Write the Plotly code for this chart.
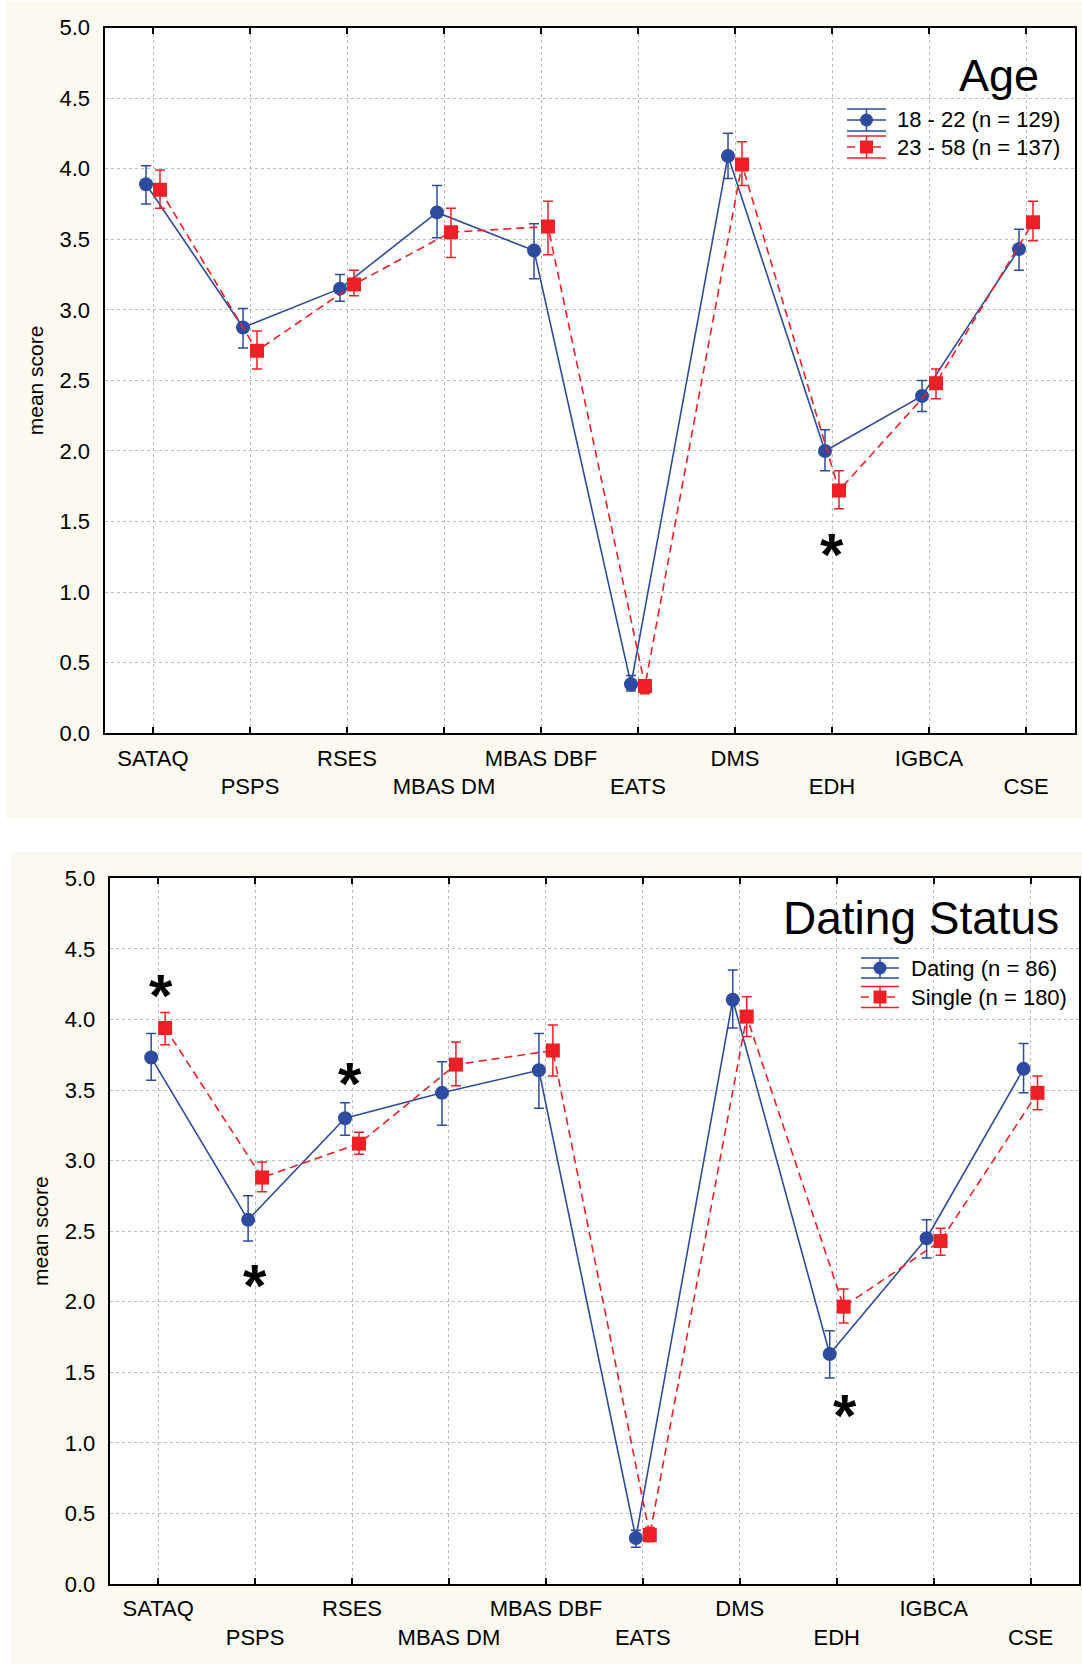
import plotly.graph_objects as go

# ---------------- data ----------------
categories = ["SATAQ", "PSPS", "RSES", "MBAS DM", "MBAS DBF", "EATS", "DMS", "EDH", "IGBCA", "CSE"]

# Top panel: Age
age_young_label = "18 - 22 (n = 129)"
age_young_mean = [3.89, 2.875, 3.15, 3.69, 3.42, 0.347, 4.09, 2.00, 2.39, 3.43]
age_young_hi = [4.02, 3.01, 3.25, 3.88, 3.61, 0.41, 4.25, 2.15, 2.50, 3.57]
age_young_lo = [3.75, 2.73, 3.06, 3.51, 3.22, 0.30, 3.93, 1.86, 2.28, 3.28]

age_old_label = "23 - 58 (n = 137)"
age_old_mean = [3.85, 2.71, 3.18, 3.55, 3.59, 0.335, 4.03, 1.72, 2.48, 3.62]
age_old_hi = [3.99, 2.85, 3.28, 3.72, 3.77, 0.38, 4.19, 1.86, 2.58, 3.77]
age_old_lo = [3.72, 2.58, 3.10, 3.37, 3.39, 0.28, 3.88, 1.59, 2.37, 3.49]

age_star_x = [7.0]
age_star_y = [1.33]

# Bottom panel: Dating status
dat_label = "Dating (n = 86)"
dat_mean = [3.73, 2.58, 3.30, 3.48, 3.64, 0.326, 4.14, 1.63, 2.45, 3.65]
dat_hi = [3.90, 2.75, 3.41, 3.70, 3.90, 0.38, 4.35, 1.795, 2.58, 3.83]
dat_lo = [3.57, 2.43, 3.18, 3.25, 3.37, 0.26, 3.94, 1.46, 2.31, 3.48]

sin_label = "Single (n = 180)"
sin_mean = [3.94, 2.88, 3.12, 3.68, 3.78, 0.347, 4.02, 1.965, 2.43, 3.48]
sin_hi = [4.05, 2.99, 3.20, 3.84, 3.96, 0.40, 4.16, 2.09, 2.52, 3.60]
sin_lo = [3.82, 2.78, 3.045, 3.53, 3.60, 0.30, 3.88, 1.85, 2.33, 3.36]

dat_star_x = [0.03, 1.0, 1.975, 7.085]
dat_star_y = [4.23, 2.18, 3.61, 1.256]

y_ticks = [0.0, 0.5, 1.0, 1.5, 2.0, 2.5, 3.0, 3.5, 4.0, 4.5, 5.0]

# ---------------- style ----------------
W, H = 1082, 1664
BLUE = "#2D4B9F"
RED = "#EE2026"
BEIGE = "#FCF9F0"
GRID = "#BDBDBD"
FONT = "Liberation Sans, Arial, sans-serif"
OFF = 0.072


def fx(px):
    return px / W


def fy(py):
    return 1 - py / H


fig = go.Figure()


def add_series(mean, hi, lo, color, dash, symbol, shift, xa, ya):
    xs = [i + shift for i in range(len(mean))]
    fig.add_trace(go.Scatter(
        x=xs, y=mean, mode="lines+markers",
        line=dict(color=color, width=1.6, dash=dash),
        marker=dict(symbol=symbol, size=14, color=color, line=dict(width=0)),
        error_y=dict(type="data", symmetric=False,
                     array=[h - m for h, m in zip(hi, mean)],
                     arrayminus=[m - l for m, l in zip(mean, lo)],
                     color=color, thickness=1.5, width=5),
        xaxis=xa, yaxis=ya, showlegend=False, hoverinfo="skip"))


add_series(age_young_mean, age_young_hi, age_young_lo, BLUE, "solid", "circle", -OFF, "x", "y")
add_series(age_old_mean, age_old_hi, age_old_lo, RED, "8px,5px", "square", OFF, "x", "y")
add_series(dat_mean, dat_hi, dat_lo, BLUE, "solid", "circle", -OFF, "x2", "y2")
add_series(sin_mean, sin_hi, sin_lo, RED, "8px,5px", "square", OFF, "x2", "y2")

ticktext = [c if i % 2 == 0 else "<br>" + c for i, c in enumerate(categories)]

xcommon = dict(range=[-0.5, 9.5], tickmode="array", tickvals=list(range(len(categories))),
               ticktext=ticktext, tickangle=0, ticks="inside", ticklen=6, tickwidth=1.5,
               tickcolor="black", automargin=False,
               showline=True, linewidth=2, linecolor="black", mirror="ticks",
               showgrid=True, gridcolor=GRID, griddash="dot", gridwidth=1,
               zeroline=False, tickfont=dict(family=FONT, size=22, color="black"),
               ticklabelstandoff=4, fixedrange=True)
ycommon = dict(range=[0, 5], tickmode="array", tickvals=y_ticks,
               ticktext=[f"{v:.1f}" for v in y_ticks], ticks="", automargin=False,
               showline=True, linewidth=2, linecolor="black", mirror=True,
               showgrid=True, gridcolor=GRID, griddash="dot", gridwidth=1,
               zeroline=False, tickfont=dict(family=FONT, size=22, color="black"),
               ticklabelstandoff=8,
               title=dict(text="mean score", font=dict(family=FONT, size=21, color="black"), standoff=10),
               fixedrange=True)
yright = dict(range=[0, 11], dtick=1, ticks="inside", ticklen=5, tickwidth=1.5, tickcolor="black",
              showticklabels=False, showgrid=False, showline=False, zeroline=False, side="right",
              automargin=False, fixedrange=True)

top_dom_x = [fx(104.5), fx(1074.5)]
top_dom_y = [fy(733.3), fy(27.5)]
bot_dom_x = [fx(109.7), fx(1079.0)]
bot_dom_y = [fy(1584.0), fy(878.3)]

fig.update_layout(
    width=W, height=H, margin=dict(l=0, r=0, t=0, b=0, autoexpand=False),
    paper_bgcolor=BEIGE, plot_bgcolor="white",
    font=dict(family=FONT, color="black"),
    xaxis=dict(domain=top_dom_x, anchor="y", **xcommon),
    yaxis=dict(domain=top_dom_y, anchor="x", **ycommon),
    xaxis2=dict(domain=bot_dom_x, anchor="y2", **xcommon),
    yaxis2=dict(domain=bot_dom_y, anchor="x2", **ycommon),
    yaxis3=dict(overlaying="y", anchor="x", **yright),
    yaxis4=dict(overlaying="y2", anchor="x2", **yright),
    showlegend=False,
)

shapes = []
annotations = []

# white gaps around the two beige panels
for (x0, x1, y0, y1) in [(0, W, 0, 2), (0, 6, 0, 819), (0, W, 819, 852), (0, 11, 852, H)]:
    shapes.append(dict(type="rect", xref="paper", yref="paper", x0=fx(x0), x1=fx(x1),
                       y0=fy(y1), y1=fy(y0), fillcolor="white", line=dict(width=0), layer="below"))

# asterisks
for xa, ya, xs, ys in [("x", "y", age_star_x, age_star_y), ("x2", "y2", dat_star_x, dat_star_y)]:
    for sx, sy in zip(xs, ys):
        annotations.append(dict(x=sx, y=sy, xref=xa, yref=ya, text="<b>*</b>", showarrow=False,
                                font=dict(family=FONT, size=60, color="black"),
                                xanchor="center", yanchor="middle", yshift=-9))


# manual legends
def legend_entry(x0, x1, yc, half, color, dashed, symbol, text, text_x):
    xm = (x0 + x1) / 2
    lw = 1.5
    shapes.append(dict(type="line", xref="paper", yref="paper", x0=fx(x0), x1=fx(x1),
                       y0=fy(yc - half), y1=fy(yc - half), line=dict(color=color, width=lw)))
    shapes.append(dict(type="line", xref="paper", yref="paper", x0=fx(x0), x1=fx(x1),
                       y0=fy(yc + half), y1=fy(yc + half), line=dict(color=color, width=lw)))
    shapes.append(dict(type="line", xref="paper", yref="paper", x0=fx(xm), x1=fx(xm),
                       y0=fy(yc - half), y1=fy(yc + half), line=dict(color=color, width=lw)))
    shapes.append(dict(type="line", xref="paper", yref="paper", x0=fx(x0), x1=fx(x1),
                       y0=fy(yc), y1=fy(yc),
                       line=dict(color=color, width=1.6, dash="8px,5px" if dashed else "solid")))
    r = 6.5
    shapes.append(dict(type="circle" if symbol == "circle" else "rect", xref="paper", yref="paper",
                       x0=fx(xm - r), x1=fx(xm + r), y0=fy(yc + r), y1=fy(yc - r),
                       fillcolor=color, line=dict(width=0)))
    annotations.append(dict(x=fx(text_x), y=fy(yc), xref="paper", yref="paper", text=text,
                            showarrow=False, xanchor="left", yanchor="middle",
                            font=dict(family=FONT, size=22, color="black")))


legend_entry(847, 886, 120, 11, BLUE, False, "circle", age_young_label, 895)
legend_entry(847, 886, 147, 11, RED, True, "square", age_old_label, 895)
legend_entry(861, 899, 968, 10, BLUE, False, "circle", dat_label, 909)
legend_entry(861, 899, 997, 10.5, RED, True, "square", sin_label, 909)

annotations.append(dict(x=fx(1041), y=fy(76), xref="paper", yref="paper", text="Age", showarrow=False,
                        xanchor="right", yanchor="middle", font=dict(family=FONT, size=45, color="black")))
annotations.append(dict(x=fx(1061), y=fy(918), xref="paper", yref="paper", text="Dating Status",
                        showarrow=False, xanchor="right", yanchor="middle",
                        font=dict(family=FONT, size=46, color="black")))

fig.update_layout(shapes=shapes, annotations=annotations)

fig.write_html("out.html", config={"displayModeBar": False},
               post_script="document.body.style.margin='0';")
